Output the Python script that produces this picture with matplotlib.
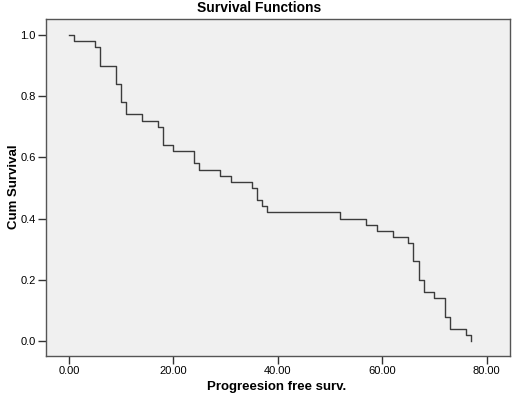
import matplotlib
matplotlib.use("Agg")
import matplotlib.pyplot as plt
from matplotlib.ticker import FormatStrFormatter

times = [0, 1, 5, 6, 9, 10, 11, 14, 17, 18, 20, 24, 25, 29, 31, 35, 36, 37, 38,
         52, 57, 59, 62, 65, 66, 67, 68, 70, 72, 73, 76, 77]
surv = [1.0, 0.98, 0.96, 0.90, 0.84, 0.78, 0.74, 0.72, 0.70, 0.64, 0.62, 0.58,
        0.56, 0.54, 0.52, 0.50, 0.46, 0.44, 0.42, 0.40, 0.38, 0.36, 0.34, 0.32,
        0.26, 0.20, 0.16, 0.14, 0.08, 0.04, 0.02, 0.0]
xticks = [0, 20, 40, 60, 80]
yticks = [0.0, 0.2, 0.4, 0.6, 0.8, 1.0]

plt.rcParams['font.family'] = ['Liberation Sans', 'DejaVu Sans']

W, H = 513, 396
fig = plt.figure(figsize=(W/100, H/100), dpi=100)
ax = fig.add_axes([46/W, 1-356/H, (510-46)/W, (356-19)/H])
ax.set_facecolor('#f0f0f0')
ax.step(times, surv, where='post', color='#3c3c3c', lw=1.0)

ax.set_xlim(-4.4, 84.5)
ax.set_ylim(-0.049, 1.052)
ax.set_xticks(xticks)
ax.set_yticks(yticks)
ax.xaxis.set_major_formatter(FormatStrFormatter('%.2f'))
ax.yaxis.set_major_formatter(FormatStrFormatter('%.1f'))
ax.tick_params(direction='out', length=6, width=1, colors='#333333',
               labelsize=8, labelcolor='black', pad=1.5)
for s in ax.spines.values():
    s.set_color('#555555')
    s.set_linewidth(1.0)

fig.text(259/W, 1-8/H, 'Survival Functions', fontsize=10, fontweight='bold',
         ha='center', va='center')
fig.text(277/W, 1-387/H, 'Progreesion free surv.', fontsize=9.5, fontweight='bold',
         ha='center', va='center')
fig.text(14/W, 1-187/H, 'Cum Survival', fontsize=9.5, fontweight='bold',
         ha='center', va='center', rotation=90)

fig.savefig('out.png', dpi=100)
